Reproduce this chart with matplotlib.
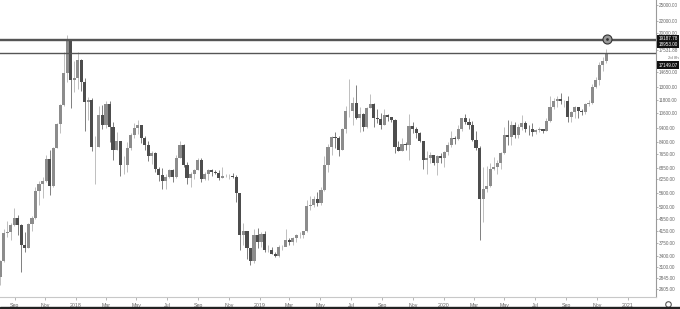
import matplotlib
matplotlib.use('Agg')
import matplotlib.pyplot as plt
import matplotlib.dates as mdates
import numpy as np
import pandas as pd

# weekly BTC candles, week starting Monday 2017-07-31 .. 2020-11-16
first_open = 2870
close = [
    # 2017
    3250, 4060, 4090, 4350, 4600, 4330, 3700, 3600, 4370, 4600, 5680, 6000, 6150, 7350, 5900, 8000,
    9700, 11300, 14600, 19000, 13800, 14000,
    # 2018
    16200, 13600, 11600, 11800, 8100, 8100, 10400, 9600, 11400, 9500, 7900, 8500, 7000, 7000, 8000,
    8900, 9400, 9600, 8700, 8200, 7500, 7700, 6780, 6450, 6150, 6360, 6750, 6350, 7400, 8200, 7000,
    6300, 6500, 6700, 7270, 6250, 6500, 6700, 6600, 6570, 6300, 6400, 6400, 6400, 6350, 5600, 4000,
    4150, 3600, 3250, 4000, 3800,
    # 2019
    4050, 3550, 3550, 3450, 3400, 3650, 3650, 3850, 3800, 3900, 4000, 4000, 4150, 5050, 5070, 5350,
    5150, 5750, 7000, 8100, 8750, 8700, 7900, 9300, 10800, 10800, 11500, 10200, 10500, 9500, 11000,
    11400, 10200, 10100, 9600, 10400, 10300, 10050, 8050, 7850, 8300, 8200, 9550, 9300, 9050, 8500,
    7300, 7400, 7550, 7100, 7500, 7400,
    # 2020
    7750, 8200, 8650, 8600, 9300, 10150, 9900, 9650, 8550, 8000, 5350, 5800, 5900, 6800, 6900, 7100,
    7700, 8900, 8750, 9650, 8900, 9450, 9750, 9350, 9300, 9100, 9250, 9300, 9150, 9950, 11100, 11700,
    11850, 11650, 11700, 10250, 10700, 11100, 10750, 10650, 11400, 11500, 13050, 13800, 15500, 16050,
    17149.07,
]
high = [
    3290, 4190, 4480, 4400, 4980, 4700, 4380, 4100, 4400, 4650, 5880, 6180, 6350, 7600, 7900, 8100,
    9750, 11400, 17200, 19666, 19100, 16000,
    17250, 16300, 14000, 12000, 11900, 8800, 11200, 11300, 11700, 11700, 9900, 9100, 8500, 7500, 8400,
    9000, 9750, 9990, 9600, 8800, 8500, 7800, 7760, 6900, 6860, 6530, 6800, 6800, 7600, 8500, 8280,
    7150, 6600, 6800, 7400, 7410, 6600, 6800, 6800, 6700, 6700, 6900, 6500, 6500, 6550, 6450, 5600,
    4400, 4150, 3600, 4200, 4250,
    4100, 4150, 3700, 3650, 3500, 3700, 3700, 4200, 3900, 3950, 4050, 4100, 4150, 5300, 5450, 5450,
    5650, 5850, 7500, 8300, 8850, 9100, 8800, 9400, 11200, 13850, 12000, 13200, 11100, 10600, 11100,
    12300, 11500, 10950, 10600, 10900, 10500, 10300, 10100, 8500, 8650, 8400, 10500, 9900, 9500, 9100,
    8500, 7850, 7750, 7600, 7550, 7700,
    7800, 8400, 9200, 8800, 9600, 10150, 10500, 10200, 9950, 9180, 8150, 6900, 6950, 7100, 7450, 7300,
    7750, 9450, 10050, 9950, 9850, 9700, 10400, 9950, 9650, 9800, 9300, 9450, 9350, 10150, 12100, 11900,
    12100, 12450, 11800, 12100, 10800, 11200, 11050, 10950, 11450, 11750, 13350, 14100, 15950, 16500,
    17600,
]
low = [
    2680, 3220, 3950, 3850, 4300, 3990, 2980, 3500, 3600, 4140, 4560, 5100, 5380, 6100, 5500, 5850,
    8000, 9000, 11200, 13600, 11000, 12500,
    12800, 12600, 9200, 10000, 7800, 6000, 8100, 9300, 9400, 8400, 7300, 7900, 6400, 6500, 6600,
    7900, 8700, 8980, 8350, 7900, 7200, 7050, 6630, 6140, 5780, 5800, 6300, 6100, 6330, 7400, 6900,
    6000, 5880, 6250, 6700, 6100, 6200, 6200, 6400, 6500, 6200, 6300, 6350, 6250, 6300, 5200, 3550,
    3700, 3300, 3150, 3200, 3600,
    3650, 3500, 3500, 3450, 3350, 3350, 3550, 3700, 3700, 3700, 3800, 3900, 3900, 4100, 4900, 5000,
    5050, 5100, 5700, 6600, 7550, 8000, 7500, 7900, 9000, 10300, 9600, 10100, 9100, 9200, 9400,
    11000, 9500, 9800, 9350, 9600, 9950, 9850, 7700, 7800, 7800, 7900, 7300, 9000, 8700, 8400,
    6800, 6500, 7100, 7000, 6450, 7100,
    6900, 7600, 8100, 8250, 8550, 9150, 9700, 9300, 8450, 7900, 3850, 4450, 5650, 5850, 6700, 6500,
    6800, 7650, 8200, 8200, 8700, 8650, 9250, 9100, 8900, 8850, 8950, 9100, 9050, 9150, 9900, 10950,
    11150, 11400, 11150, 9900, 9850, 10200, 10150, 10400, 10550, 11200, 11400, 12950, 13200, 14800,
    15800,
]

# horizontal levels drawn on the chart
levels = [19187.78, 18953.00, 17149.07]
last_price = 17149.07

yticks = [25000, 22000, 20000, 17531.88, 14650, 13000, 11800, 10600, 9400, 8400, 7650, 6850,
          6250, 5600, 5000, 4550, 4150, 3750, 3400, 3100, 2845, 2605]
xtick_dates = pd.date_range('2017-09-01', '2021-01-01', freq='2MS')

weeks = pd.date_range('2017-07-31', periods=len(close), freq='W-MON')
x = mdates.date2num(weeks) + 3.5
o = np.array([first_open] + close[:-1], dtype=float)
c = np.array(close, dtype=float)
h = np.array(high, dtype=float)
l = np.array(low, dtype=float)

up = c >= o
body_cols = np.where(up, '#8c8c8c', '#4d4d4d')
wick_cols = np.where(up, '#b4b4b4', '#6a6a6a')

scale_font = 'Liberation Sans'

fig = plt.figure(figsize=(6.8, 3.09), dpi=100)
ax = fig.add_axes([0, 12 / 309, 656 / 680, 297 / 309])
ax.set_yscale('log')

# candles
ax.vlines(x, l, h, colors=wick_cols, linewidth=0.6, zorder=2)
ax.bar(x, np.abs(c - o), bottom=np.minimum(o, c), width=6.2, color=body_cols, linewidth=0, zorder=3)

# levels
for lv in levels:
    ax.axhline(lv, color='#555555', linewidth=1.0, zorder=4)

# alert marker on top line
ax.plot(mdates.date2num(pd.Timestamp('2020-11-20')), levels[0], 'o', ms=6.5, mfc='#9a9a9a',
        mec='#333333', mew=0.8, zorder=5)
ax.plot(mdates.date2num(pd.Timestamp('2020-11-20')), levels[0], 'o', ms=2, mfc='#333333',
        mec='none', zorder=6)

ax.set_xlim(mdates.date2num(pd.Timestamp('2017-08-03')), mdates.date2num(pd.Timestamp('2021-02-26')))
ax.set_ylim(2442, 26100)

# price scale on the right
ax.yaxis.tick_right()
ax.yaxis.set_major_locator(matplotlib.ticker.FixedLocator(yticks))
ax.yaxis.set_minor_locator(matplotlib.ticker.NullLocator())
ax.set_yticklabels(['%.2f' % v for v in yticks], family=scale_font)
ax.tick_params(axis='y', which='major', length=1.5, width=0.5, color='#999999', pad=0.6,
               labelsize=3.3, labelcolor='#666666')

ax.set_xticks(mdates.date2num(xtick_dates))
ax.set_xticklabels([d.strftime('%Y') if d.month == 1 else d.strftime('%b') for d in xtick_dates],
                   family=scale_font)
ax.tick_params(axis='x', length=2, width=0.5, color='#999999', pad=2.5, labelsize=3.8,
               labelcolor='#666666')

for s in ['top', 'left']:
    ax.spines[s].set_visible(False)
ax.spines['right'].set_color('#9a9a9a')
ax.spines['bottom'].set_color('#c8c8c8')
ax.spines['right'].set_linewidth(0.8)
ax.spines['bottom'].set_linewidth(0.8)

# black price labels on the scale (shifted where they collide)
tag_shift = {19187.78: 0, 18953.00: -3.2, 17149.07: -9.0}
for lv, dy in tag_shift.items():
    ax.annotate('%.2f' % lv, xy=(1.0, lv), xycoords=('axes fraction', 'data'),
                xytext=(1.6, dy), textcoords='offset points', ha='left', va='center',
                fontsize=3.3, family=scale_font, color='white', annotation_clip=False,
                bbox=dict(boxstyle='square,pad=0.3', fc='#111111', ec='none'), zorder=10)
ax.annotate('2d 8h', xy=(1.0, last_price), xycoords=('axes fraction', 'data'),
            xytext=(9, -4.0), textcoords='offset points', ha='left', va='center',
            fontsize=3.2, family=scale_font, color='#777777', annotation_clip=False)

# settings icon and bottom strip
ax.plot([668 / 680], [5 / 309], 'o', ms=4, mfc='white', mec='#555555', mew=0.8,
        transform=fig.transFigure, clip_on=False)
fig.patches.append(plt.Rectangle((0, 0), 1, 1.6 / 309, transform=fig.transFigure,
                                 color='#222222', zorder=20))

fig.savefig('out.png', dpi=100)
